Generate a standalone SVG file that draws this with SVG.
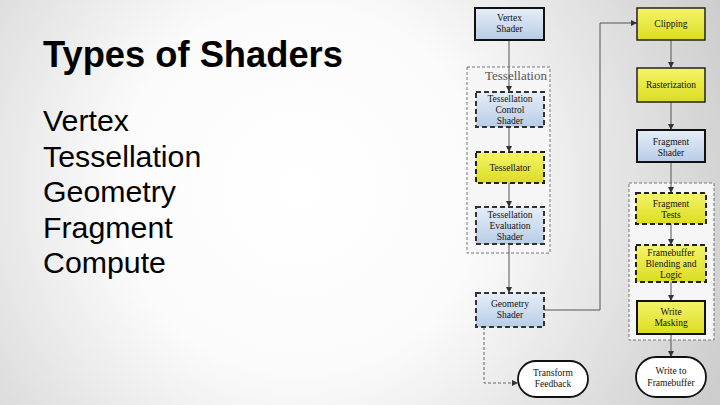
<svg xmlns="http://www.w3.org/2000/svg" width="720" height="405" viewBox="0 0 720 405">
<defs>
<radialGradient id="bg" cx="300" cy="190" r="460" gradientUnits="userSpaceOnUse">
<stop offset="0" stop-color="#ffffff"/>
<stop offset="0.4" stop-color="#fbfbfb"/>
<stop offset="1" stop-color="#cdcdcd"/>
</radialGradient>
<linearGradient id="blue" x1="0" y1="0" x2="0" y2="1">
<stop offset="0" stop-color="#e6eef8"/>
<stop offset="1" stop-color="#b8cce6"/>
</linearGradient>
<linearGradient id="yellow" x1="0" y1="0" x2="0" y2="1">
<stop offset="0" stop-color="#f4f46a"/>
<stop offset="1" stop-color="#dcdc22"/>
</linearGradient>
<marker id="arr" viewBox="0 0 8 8" refX="8" refY="4" markerWidth="6" markerHeight="6" orient="auto" markerUnits="userSpaceOnUse">
<path d="M0,0 L8,4 L0,8 z" fill="#333"/>
</marker>
</defs>
<style>
.title{font-family:"Liberation Sans",Arial,sans-serif;font-weight:bold;font-size:36.3px;fill:#000}
.body{font-family:"Liberation Sans",Arial,sans-serif;font-size:30.3px;fill:#000}
.lbl{font-family:"Liberation Serif","Times New Roman",serif;font-size:9.5px;fill:#111;text-anchor:middle}
.grp{font-family:"Liberation Serif","Times New Roman",serif;font-size:13px;fill:#555}
.bsolid{fill:url(#blue);stroke:#111;stroke-width:2}
.bdash{fill:url(#blue);stroke:#333;stroke-width:2;stroke-dasharray:5,3}
.ysolid{fill:url(#yellow);stroke:#222;stroke-width:1.5}
.ydash{fill:url(#yellow);stroke:#222;stroke-width:2;stroke-dasharray:5,3}
.yth{fill:url(#yellow);stroke:#111;stroke-width:2}
.term{fill:#fff;stroke:#111;stroke-width:1.8}
.group{fill:#f6f6f6;stroke:#777;stroke-width:1;stroke-dasharray:3,2}
.c{fill:none;stroke:#555;stroke-width:1}
.cd{fill:none;stroke:#666;stroke-width:1;stroke-dasharray:3,2}
</style>
<rect x="0" y="0" width="720" height="405" fill="url(#bg)"/>

<g id="text">
<text class="title" x="43" y="67">Types of Shaders</text>
<text class="body" x="43" y="131">Vertex</text>
<text class="body" x="43" y="166.5">Tessellation</text>
<text class="body" x="43" y="202">Geometry</text>
<text class="body" x="43" y="237.5">Fragment</text>
<text class="body" x="43" y="273">Compute</text>
</g>

<g id="tess-group">
<rect class="group" x="467" y="67" width="83" height="186"/>
<text class="grp" x="485" y="80">Tessellation</text>
</g>
<g id="frag-group">
<rect class="group" x="629" y="183" width="85" height="157"/>
</g>

<g id="connectors">
<line class="c" x1="509" y1="40" x2="509" y2="92" marker-end="url(#arr)"/>
<line class="c" x1="509" y1="127" x2="509" y2="152" marker-end="url(#arr)"/>
<line class="c" x1="509" y1="183" x2="509" y2="207" marker-end="url(#arr)"/>
<line class="c" x1="509" y1="244" x2="509" y2="293" marker-end="url(#arr)"/>
<polyline class="c" points="544,310 600,310 600,23 637,23" marker-end="url(#arr)"/>
<polyline class="cd" points="484,327 484,383 518,383" marker-end="url(#arr)"/>
<line class="c" x1="671" y1="40" x2="671" y2="68" marker-end="url(#arr)"/>
<line class="c" x1="671" y1="102" x2="671" y2="130" marker-end="url(#arr)"/>
<line class="c" x1="671" y1="162" x2="671" y2="193" marker-end="url(#arr)"/>
<line class="c" x1="671" y1="224" x2="671" y2="245" marker-end="url(#arr)"/>
<line class="c" x1="671" y1="282" x2="671" y2="301" marker-end="url(#arr)"/>
<line class="c" x1="671" y1="334" x2="671" y2="357" marker-end="url(#arr)"/>
</g>

<g id="vertex-shader">
<rect class="bsolid" x="475" y="8" width="69" height="32"/>
<text class="lbl" x="509.5" y="21">Vertex</text>
<text class="lbl" x="509.5" y="32">Shader</text>
</g>
<g id="tess-control">
<rect class="bdash" x="476" y="92" width="68" height="35"/>
<text class="lbl" x="510" y="102">Tessellation</text>
<text class="lbl" x="510" y="113">Control</text>
<text class="lbl" x="510" y="124">Shader</text>
</g>
<g id="tessellator">
<rect class="ydash" x="476" y="152" width="68" height="31"/>
<text class="lbl" x="510" y="171">Tessellator</text>
</g>
<g id="tess-eval">
<rect class="bdash" x="476" y="207" width="68" height="37"/>
<text class="lbl" x="510" y="218">Tessellation</text>
<text class="lbl" x="510" y="229">Evaluation</text>
<text class="lbl" x="510" y="240">Shader</text>
</g>
<g id="geometry-shader">
<rect class="bdash" x="476" y="293" width="68" height="34"/>
<text class="lbl" x="510" y="307">Geometry</text>
<text class="lbl" x="510" y="318">Shader</text>
</g>
<g id="transform-feedback">
<rect class="term" x="518" y="361" width="70" height="36" rx="18" ry="18"/>
<text class="lbl" x="553" y="376">Transform</text>
<text class="lbl" x="553" y="387">Feedback</text>
</g>
<g id="clipping">
<rect class="ysolid" x="637" y="8" width="68" height="32"/>
<text class="lbl" x="671" y="27">Clipping</text>
</g>
<g id="rasterization">
<rect class="ysolid" x="637" y="68" width="68" height="34"/>
<text class="lbl" x="671" y="88">Rasterization</text>
</g>
<g id="fragment-shader">
<rect class="bsolid" x="637" y="130" width="68" height="32"/>
<text class="lbl" x="671" y="145">Fragment</text>
<text class="lbl" x="671" y="156">Shader</text>
</g>
<g id="fragment-tests">
<rect class="ydash" x="636" y="193" width="70" height="31"/>
<text class="lbl" x="671" y="207">Fragment</text>
<text class="lbl" x="671" y="218">Tests</text>
</g>
<g id="framebuffer-blending">
<rect class="ydash" x="636" y="245" width="70" height="37"/>
<text class="lbl" x="671" y="256">Framebuffer</text>
<text class="lbl" x="671" y="267">Blending and</text>
<text class="lbl" x="671" y="278">Logic</text>
</g>
<g id="write-masking">
<rect class="yth" x="637" y="301" width="68" height="33"/>
<text class="lbl" x="671" y="315">Write</text>
<text class="lbl" x="671" y="326">Masking</text>
</g>
<g id="write-framebuffer">
<rect class="term" x="636" y="357" width="70" height="40" rx="20" ry="20"/>
<text class="lbl" x="671" y="374">Write to</text>
<text class="lbl" x="671" y="386">Framebuffer</text>
</g>
</svg>
